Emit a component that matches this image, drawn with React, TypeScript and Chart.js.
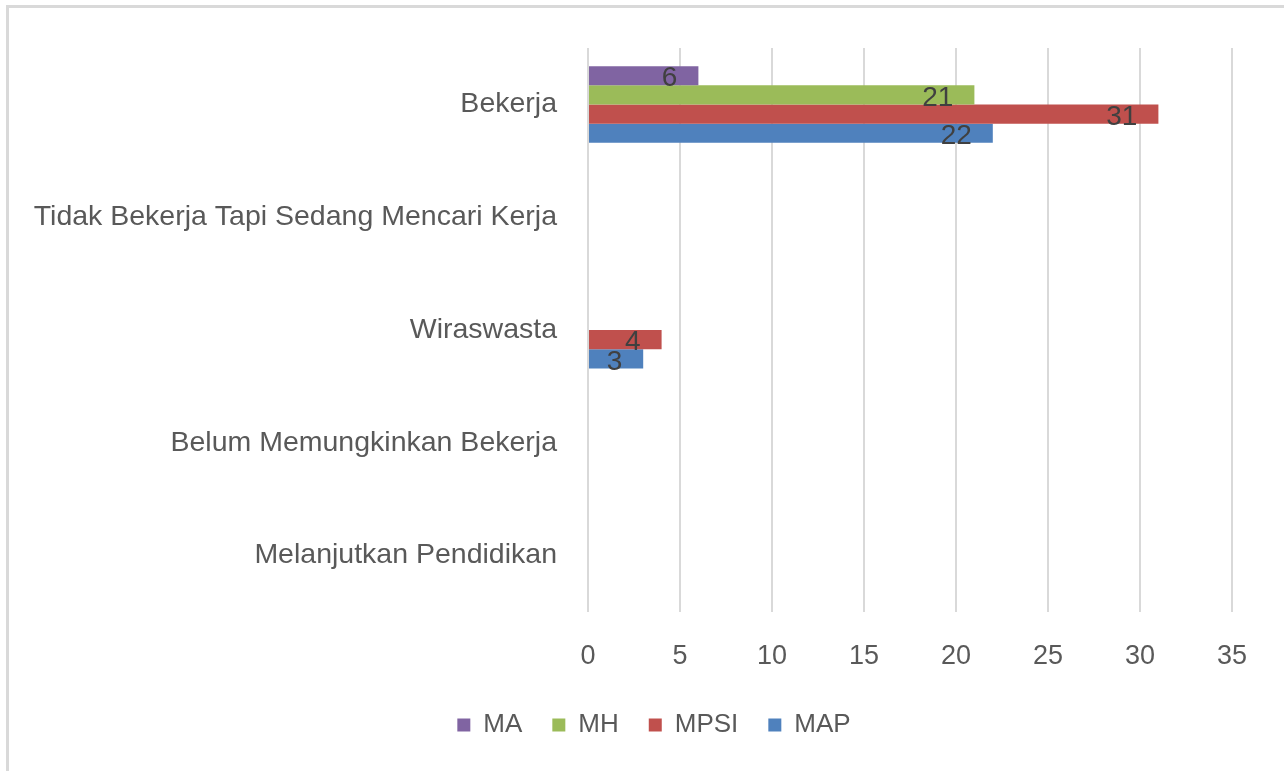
import React, { useEffect, useRef } from "react";
import { Chart, registerables } from "chart.js";

Chart.register(...registerables);

const categories = [
  "Bekerja",
  "Tidak Bekerja Tapi Sedang Mencari Kerja",
  "Wiraswasta",
  "Belum Memungkinkan Bekerja",
  "Melanjutkan Pendidikan",
];
const seriesNames = ["MA", "MH", "MPSI", "MAP"];
const maValues = [6, 0, 0, 0, 0];
const mhValues = [21, 0, 0, 0, 0];
const mpsiValues = [31, 0, 4, 0, 0];
const mapValues = [22, 0, 3, 0, 0];
const seriesColors = ["#8064A2", "#9BBB59", "#C0504D", "#4F81BD"];
const xTicks = [0, 5, 10, 15, 20, 25, 30, 35];

const FONT = "'Liberation Sans', Arial, sans-serif";

const labelPlugin = {
  id: "barLabels",
  afterLayout(chart: any) {
    const lg = chart.legend;
    if (lg) {
      lg.left += 38;
      lg.right += 38;
    }
  },
  afterDatasetsDraw(chart: any) {
    const ctx = chart.ctx;
    ctx.save();
    ctx.font = `28px ${FONT}`;
    ctx.fillStyle = "#404040";
    ctx.textAlign = "right";
    ctx.textBaseline = "middle";
    chart.data.datasets.forEach((ds: any, di: number) => {
      const meta = chart.getDatasetMeta(di);
      meta.data.forEach((bar: any, i: number) => {
        const v = ds.data[i];
        if (!v) return;
        ctx.fillText(String(v), bar.x - 21, bar.y + 3);
      });
    });
    ctx.restore();
  },
};

export default function App() {
  const ref = useRef<HTMLCanvasElement>(null);
  useEffect(() => {
    const valueSets = [maValues, mhValues, mpsiValues, mapValues];
    const chart = new Chart(ref.current!, {
      type: "bar",
      data: {
        labels: categories,
        datasets: seriesNames.map((n, i) => ({
          label: n,
          data: valueSets[i],
          backgroundColor: seriesColors[i],
          borderWidth: 0,
          categoryPercentage: 0.68,
          barPercentage: 1,
        })),
      },
      options: {
        indexAxis: "y",
        animation: false,
        responsive: false,
        maintainAspectRatio: false,
        layout: { padding: { left: 0, right: 52, top: 46, bottom: 23 } },
        plugins: {
          tooltip: { enabled: false },
          legend: {
            position: "bottom",
            labels: {
              boxWidth: 13,
              boxHeight: 13,
              padding: 30,
              color: "#595959",
              font: { family: FONT, size: 26 },
            },
          },
        },
        scales: {
          x: {
            min: 0,
            max: 35,
            afterBuildTicks: (axis: any) => {
              axis.ticks = xTicks.map((v) => ({ value: v }));
            },
            grid: { color: "#d9d9d9", lineWidth: 2, drawTicks: false },
            border: { display: false },
            ticks: {
              color: "#595959",
              padding: 28,
              font: { family: FONT, size: 27 },
            },
            afterFit: (axis: any) => {
              axis.height = 70;
            },
          },
          y: {
            grid: { display: false, drawTicks: false },
            border: { display: false },
            ticks: {
              color: "#595959",
              padding: 31,
              font: { family: FONT, size: 28.5 },
            },
            afterFit: (axis: any) => {
              axis.width = 588;
            },
          },
        },
      },
      plugins: [labelPlugin],
    } as any);
    return () => chart.destroy();
  }, []);
  return (
    <div style={{ position: "fixed", left: 0, top: 0, width: 1284, height: 771, background: "#fff" }}>
      <canvas ref={ref} width={1284} height={771} style={{ position: "absolute", left: 0, top: 0 }} />
      <div
        style={{
          position: "absolute",
          left: 6,
          top: 5,
          width: 1290,
          height: 800,
          borderTop: "3px solid #d9d9d9",
          borderLeft: "3px solid #d9d9d9",
          pointerEvents: "none",
        }}
      />
    </div>
  );
}
